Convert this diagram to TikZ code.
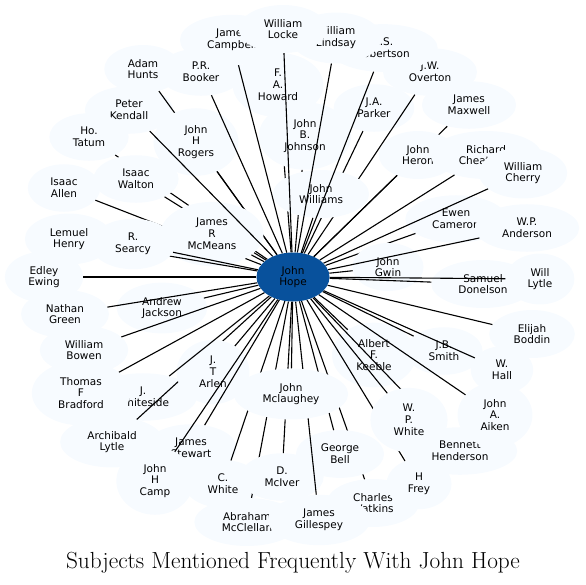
\documentclass[tikz,border=0pt]{standalone}
\usepackage{fontspec}
\newfontfamily\nodefont{DejaVu Sans}
\usetikzlibrary{shapes.geometric}
\definecolor{satfill}{HTML}{F7FBFF}
\definecolor{hubfill}{HTML}{08519C}
\pgfdeclarelayer{l1}\pgfdeclarelayer{l2}\pgfdeclarelayer{l3}\pgfdeclarelayer{l4}
\pgfdeclarelayer{l5}\pgfdeclarelayer{l6}\pgfdeclarelayer{l7}\pgfdeclarelayer{l8}
\pgfsetlayers{l1,l2,l3,l4,l5,l6,l7,l8,main}
\tikzset{
  sat/.style={ellipse, fill=satfill, inner xsep=12pt, inner ysep=7pt, align=center,
    font=\nodefont\fontsize{10.5}{11.8}\selectfont},
  hub/.style={ellipse, fill=hubfill, minimum width=73pt, minimum height=49pt, inner sep=1pt,
    align=center, font=\nodefont\fontsize{10.5}{11.8}\selectfont},
  link/.style={draw=black, line width=1.1pt},
  caption/.style={anchor=base, font=\fontsize{23.3}{26}\selectfont}
}
\begin{document}
\begin{tikzpicture}[x=1pt,y=-1pt]
\useasboundingbox (0,0) rectangle (586,584);
% ---------------- layer 1 nodes
\begin{pgfonlayer}{l1}
\node[sat] (overton) at (430,72) {J.W.\\Overton};
\node[sat] (robertson) at (383,48) {R.S.\\Robertson};
\node[sat] (lindsay) at (336,38) {William\\Lindsay};
\node[sat] (campbell) at (232,40) {James\\Campbell};
\node[sat] (locke) at (283,29) {William\\Locke};
\node[sat] (hunts) at (143,69) {Adam\\Hunts};
\node[sat] (booker) at (201,72) {P.R.\\Booker};
\node[sat] (howard) at (278,85) {F.\\A.\\Howard};
\node[sat] (parker) at (374,108) {J.A.\\Parker};
\node[sat] (maxwell) at (469,105) {James\\Maxwell};
\node[sat] (kendall) at (129,110) {Peter\\Kendall};
\node[sat] (tatum) at (89,137) {Ho.\\Tatum};
\node[sat] (allen) at (64,188) {Isaac\\Allen};
\node[sat] (henry) at (69,239) {Lemuel\\Henry};
\node[sat] (ewing) at (44,277) {Edley\\Ewing};
\node[sat] (bowen) at (84,350) {William\\Bowen};
\node[sat] (green) at (65,314) {Nathan\\Green};
\node[sat] (whiteside) at (143,397) {J.\\Whiteside};
\node[sat] (bradford) at (81,393) {Thomas\\F\\Bradford};
\node[sat] (archibald) at (112,442) {Archibald\\Lytle};
\node[sat] (stewart) at (191,448) {James\\Stewart};
\node[sat] (camp) at (155,481) {John\\H\\Camp};
\node[sat] (mcclellan) at (247,522) {Abraham\\McClellan};
\node[sat] (watkins) at (373,503) {Charles\\Watkins};
\node[sat] (gillespey) at (319,520) {James\\Gillespey};
\node[sat] (frey) at (419,484) {H\\Frey};
\node[sat] (cwhite) at (223,484) {C.\\White};
\node[sat] (henderson) at (460,451) {Bennett\\Henderson};
\node[sat] (aiken) at (495,415) {John\\A.\\Aiken};
\node[sat] (hall) at (502,370) {W.\\Hall};
\node[sat] (boddin) at (532,334) {Elijah\\Boddin};
\node[sat] (donelson) at (483,284) {Samuel\\Donelson};
\node[sat] (lytle) at (540,279) {Will\\Lytle};
\node[sat] (cameron) at (456,219) {Ewen\\Cameron};
\node[sat] (anderson) at (527,228) {W.P.\\Anderson};
\end{pgfonlayer}
% ---------------- layer 3 nodes
\begin{pgfonlayer}{l3}
\node[sat] (mciver) at (282,477) {D.\\McIver};
\node[sat] (heron) at (418,155) {John\\Heron};
\node[sat] (cheatham) at (486,155) {Richard\\Cheatham};
\node[sat] (cherry) at (523,173) {William\\Cherry};
\node[sat] (walton) at (136,179) {Isaac\\Walton};
\node[sat] (rogers) at (196,142) {John\\H\\Rogers};
\node[sat] (johnson) at (305,136) {John\\B.\\Johnson};
\end{pgfonlayer}
% ---------------- layer 5 nodes
\begin{pgfonlayer}{l5}
\node[sat] (mcmeans) at (212,234) {James\\R\\McMeans};
\node[sat] (williams) at (321,194) {John\\Williams};
\node[sat] (gwin) at (388,267) {John\\Gwin};
\node[sat] (bell) at (340,454) {George\\Bell};
\node[sat] (keeble) at (374,355) {Albert\\F.\\Keeble};
\end{pgfonlayer}
% ---------------- layer 7 nodes
\begin{pgfonlayer}{l7}
\node[sat] (searcy) at (133,244) {R.\\Searcy};
\node[sat] (smith) at (444,351) {J.B.\\Smith};
\node[sat] (jackson) at (162,308) {Andrew\\Jackson};
\node[sat] (arlen) at (213,372) {J.\\T\\Arlen};
\node[sat] (wpwhite) at (409,420) {W.\\P.\\White};
\node[sat] (mclaughey) at (291,394) {John\\Mclaughey};
\end{pgfonlayer}
% ---------------- centre
\node[hub] (hope) at (293,277) {John\\Hope};
% ---------------- edges
\begin{pgfonlayer}{l2}
\foreach \t in {hunts,tatum,allen,maxwell,howard,parker,overton,mcclellan,watkins,cameron,archibald}
  \draw[link] (hope) -- (\t);
\end{pgfonlayer}
\begin{pgfonlayer}{l4}
\foreach \t in {walton,rogers,johnson,heron,cheatham,cherry,cwhite,mciver}
  \draw[link] (hope) -- (\t);
\end{pgfonlayer}
\begin{pgfonlayer}{l6}
\foreach \t in {henry,kendall,booker,gillespey,bell,frey,henderson}
  \draw[link] (hope) -- (\t);
\end{pgfonlayer}
\begin{pgfonlayer}{l8}
\foreach \t in {locke,lindsay,robertson,campbell,green,bowen,ewing,bradford,whiteside,stewart,camp,searcy,mcmeans,williams,gwin,donelson,lytle,anderson,boddin,hall,aiken,wpwhite,smith,keeble,jackson,arlen,mclaughey}
  \draw[link] (hope) -- (\t);
\end{pgfonlayer}
% ---------------- title
\node[caption] (title) at (293,568) {Subjects Mentioned Frequently With John Hope};
\end{tikzpicture}
\end{document}
